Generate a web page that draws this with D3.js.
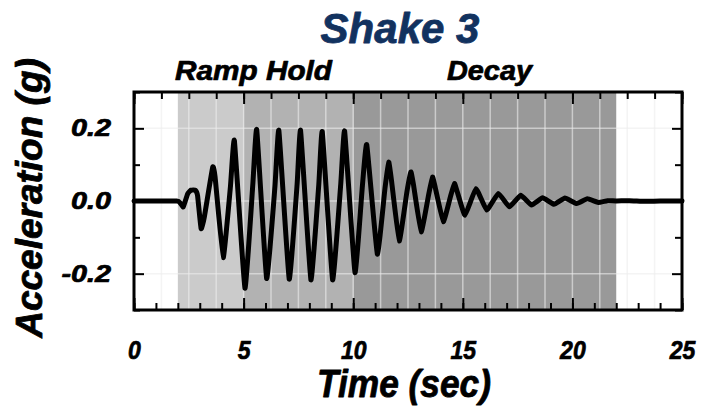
<!DOCTYPE html>
<html>
<head>
<meta charset="utf-8">
<script src="https://cdn.jsdelivr.net/npm/d3@7"></script>
<style>
  html, body { margin: 0; padding: 0; background: #fff; }
  svg { display: block; }
  text { font-family: "Liberation Sans", Arial, Helvetica, sans-serif; font-weight: bold; font-style: italic; }
</style>
</head>
<body>
<svg id="chart" width="704" height="406"></svg>
<script>
// Shake 3 acceleration record: time (s) and acceleration (g)
const timeSec = [
  0, 1.95, 2.1, 2.25, 2.45, 2.6, 2.8, 2.9, 3.06, 3.2, 3.59, 3.7,
  4.07, 4.4, 4.58, 5.06, 5.42, 5.6, 6.05, 6.43, 6.61, 7.08, 7.44, 7.6,
  8.07, 8.43, 8.59, 9.06, 9.43, 9.61, 10.08, 10.42, 10.62, 11.1, 11.45, 11.62,
  11.75, 12.1, 12.45, 12.63, 12.75, 13.1, 13.45, 13.62, 13.75, 14.11, 14.45, 14.62,
  14.75, 15.1, 15.6, 16.09, 16.62, 17.12, 17.64, 18.14, 18.64, 19.16, 19.66, 20.2,
  20.68, 21.18, 21.6, 22.0, 22.6, 23.3, 24.0, 25
];
const accelG = [
  0, 0, -0.005, -0.016, 0.02, 0.03, 0.03, 0.015, -0.076, -0.047, 0.093, 0.066,
  -0.156, 0.04, 0.166, -0.24, 0.045, 0.196, -0.213, 0.04, 0.194, -0.215, 0.045, 0.194,
  -0.217, 0.045, 0.19, -0.217, 0.045, 0.192, -0.197, 0.042, 0.155, -0.146, 0.035, 0.107,
  0.055, -0.11, 0.025, 0.08, 0.045, -0.085, 0.02, 0.066, 0.035, -0.057, 0.015, 0.048,
  0.025, -0.039, 0.034, -0.025, 0.021, -0.016, 0.016, -0.011, 0.009, -0.009, 0.008, -0.007,
  0.006, -0.004, 0.001, 0, 0.001, -0.001, 0, 0
];

// Test phases shown as shaded bands
const phaseNames  = ["Ramp", "Hold", "Decay"];
const phaseStart  = [2, 5, 10];
const phaseEnd    = [5, 10, 22];
const phaseColors = ["#cbcbcb", "#b2b2b2", "#999999"];

// Axis ticks
const xMajorTicks = [0, 5, 10, 15, 20, 25];
const xMinorTicks = d3.range(0, 25.01, 1);
const xTopTicks   = d3.range(0, 25.01, 1.25);
const yMajorTicks = [-0.2, 0, 0.2];
const yMinorTicks = [-0.3, -0.1, 0.1, 0.3];
const yLabels     = ["-0.2", "0.0", "0.2"];
const xGrid       = d3.range(1.25, 25, 1.25);

const svg = d3.select("#chart");
const m = { left: 134, right: 682, top: 92, bottom: 310 };
const x = d3.scaleLinear().domain([0, 25]).range([m.left, m.right]);
const y = d3.scaleLinear().domain([-0.3, 0.3]).range([m.bottom, m.top]);
const W = m.right - m.left, H = m.bottom - m.top;

// Phase shading
svg.append("g").selectAll("rect")
  .data(phaseNames)
  .join("rect")
  .attr("x", (d, i) => x(phaseStart[i]))
  .attr("y", m.top)
  .attr("width", (d, i) => x(phaseEnd[i]) - x(phaseStart[i]))
  .attr("height", H)
  .attr("fill", (d, i) => phaseColors[i]);

// Light grid over the shading
const grid = svg.append("g").attr("stroke", "#ececec").attr("stroke-opacity", 0.6).attr("stroke-width", 1.5);
grid.selectAll("line.v").data(xGrid).join("line").attr("class", "v")
  .attr("x1", d => x(d)).attr("x2", d => x(d)).attr("y1", m.top).attr("y2", m.bottom);
grid.selectAll("line.h").data(yMajorTicks).join("line").attr("class", "h")
  .attr("x1", m.left).attr("x2", m.right).attr("y1", d => y(d)).attr("y2", d => y(d));

// Acceleration trace (tight cardinal curve: near-sharp peaks, smooth small wiggles)
const pts = timeSec.map((t, i) => [t, accelG[i]]);
svg.append("path")
  .datum(pts)
  .attr("fill", "none")
  .attr("stroke", "#000")
  .attr("stroke-width", 5)
  .attr("stroke-linejoin", "round")
  .attr("stroke-linecap", "round")
  .attr("d", d3.line().curve(d3.curveCardinal.tension(0.65)).x(d => x(d[0])).y(d => y(d[1])));

// Inward tick marks on all four sides
function ticks(gen, tx, ty) {
  const g = svg.append("g").attr("transform", `translate(${tx},${ty})`).call(gen);
  g.select(".domain").remove();
  g.selectAll(".tick line").attr("stroke", "#000").attr("stroke-width", 2);
  return g;
}
const noLabel = () => "";
ticks(d3.axisBottom(x).tickValues(xMinorTicks).tickSize(-7).tickFormat(noLabel), 0, m.bottom);
ticks(d3.axisTop(x).tickValues(xTopTicks).tickSize(-7).tickFormat(noLabel), 0, m.top);
ticks(d3.axisTop(x).tickValues(xMajorTicks).tickSize(-12).tickFormat(noLabel), 0, m.top);
ticks(d3.axisRight(y).tickValues(yMinorTicks).tickSize(-7).tickFormat(noLabel), m.right, 0);
ticks(d3.axisRight(y).tickValues(yMajorTicks).tickSize(-10).tickFormat(noLabel), m.right, 0);
ticks(d3.axisLeft(y).tickValues(yMinorTicks).tickSize(-6).tickFormat(noLabel), m.left, 0);

// Slightly heavier strokes on the bold italic lettering
function heavy(sel, color, w) {
  return sel.attr("fill", color).attr("stroke", color).attr("stroke-width", w).attr("stroke-linejoin", "round");
}

const xAxis = ticks(d3.axisBottom(x).tickValues(xMajorTicks).tickSize(-12).tickPadding(31).tickFormat(d3.format("d")), 0, m.bottom);
heavy(xAxis.selectAll("text"), "#000", 0.7).attr("font-size", 25)
  .attr("font-family", "'Liberation Sans', Arial, sans-serif")
  .each(function () {
    const w = this.getComputedTextLength();
    this.setAttribute("textLength", (w * 0.92).toFixed(1));
    this.setAttribute("lengthAdjust", "spacingAndGlyphs");
  });

const yAxis = ticks(d3.axisLeft(y).tickValues(yMajorTicks).tickSize(-10).tickPadding(23)
  .tickFormat((d, i) => yLabels[i]), m.left, 0);
heavy(yAxis.selectAll("text"), "#000", 0.7).attr("font-size", 23)
  .attr("font-family", "'Liberation Sans', Arial, sans-serif")
  .each(function () {
    const w = this.getComputedTextLength();
    this.setAttribute("textLength", (w * 1.25).toFixed(1));
    this.setAttribute("lengthAdjust", "spacingAndGlyphs");
  });

// Plot frame
svg.append("rect")
  .attr("x", m.left).attr("y", m.top).attr("width", W).attr("height", H)
  .attr("fill", "none").attr("stroke", "#000").attr("stroke-width", 3);

// Titles and labels
heavy(svg.append("text"), "#12325f", 0.8).attr("x", 400).attr("y", 43).attr("text-anchor", "middle")
  .attr("font-size", 42).text("Shake 3");

heavy(svg.append("text"), "#000", 0.7).attr("x", 175).attr("y", 80).attr("font-size", 27)
  .attr("textLength", 157).attr("lengthAdjust", "spacingAndGlyphs").text("Ramp Hold");
heavy(svg.append("text"), "#000", 0.7).attr("x", 447).attr("y", 80).attr("font-size", 27)
  .attr("textLength", 85).attr("lengthAdjust", "spacingAndGlyphs").text("Decay");

heavy(svg.append("text"), "#000", 0.8).attr("x", 404).attr("y", 397).attr("text-anchor", "middle")
  .attr("font-size", 38).attr("textLength", 174).attr("lengthAdjust", "spacingAndGlyphs")
  .text("Time (sec)");

heavy(svg.append("text"), "#000", 0.8).attr("transform", "translate(42,198) rotate(-90)")
  .attr("text-anchor", "middle").attr("font-size", 37).text("Acceleration (g)");
</script>
</body>
</html>
